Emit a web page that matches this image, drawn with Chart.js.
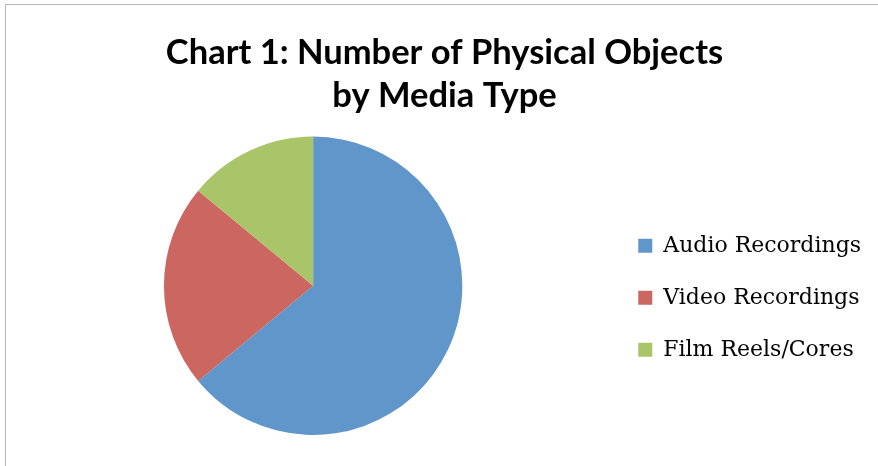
<!DOCTYPE html>
<html>
<head>
<meta charset="utf-8">
<script src="https://cdn.jsdelivr.net/npm/chart.js@4"></script>
<style>
  html, body { margin: 0; padding: 0; background: #fff; }
  #wrap { position: relative; width: 878px; height: 466px; overflow: hidden; }
  #frame { position: absolute; left: 5px; top: 4px; width: 900px; height: 500px; border: 1px solid #b8b8b8; }
  #chart { position: absolute; left: 0; top: 0; }
</style>
</head>
<body>
<div id="wrap">
  <div id="frame"></div>
  <canvas id="chart" width="878" height="466"></canvas>
</div>
<script>
// Chart 1 data
const labels = ['Audio Recordings', 'Video Recordings', 'Film Reels/Cores'];
const values = [64, 22, 14];
const colors = ['#6096C9', '#CB6660', '#AAC46A'];

const ctx = document.getElementById('chart').getContext('2d');
const pieChart = new Chart(ctx, {
    type: 'pie',
    data: {
        labels: labels,
        datasets: [{
            data: values,
            backgroundColor: colors,
            borderWidth: 0,
        }]
    },
    options: {
        responsive: false,
        animation: false,
        layout: {
            padding: { left: 18, right: 7, top: 0, bottom: 31 }
        },
        plugins: {
            title: {
                display: true,
                text: ['Chart 1: Number of Physical Objects', 'by Media Type'],
                color: '#000',
                font: { family: 'Lato', size: 34.5, weight: 'bold', lineHeight: 1.255 },
                padding: { top: 31, bottom: 19 }
            },
            legend: {
                position: 'right',
                align: 'center',
                fullSize: false,
                title: {
                    display: true,
                    text: ' ',
                    font: { size: 10, lineHeight: 1 },
                    padding: { top: 0, bottom: 14 }
                },
                labels: {
                    color: '#000',
                    font: { family: 'DejaVu Serif', size: 22 },
                    boxWidth: 14,
                    boxHeight: 14,
                    padding: 30
                }
            },
            tooltip: { enabled: false }
        }
    }
});
</script>
</body>
</html>
